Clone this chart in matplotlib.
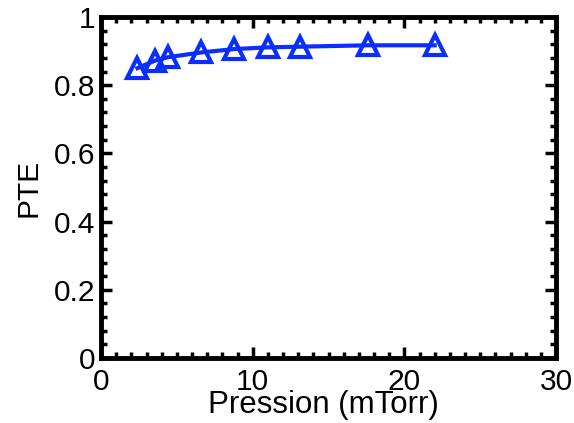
import matplotlib
matplotlib.use("Agg")
import matplotlib.pyplot as plt
from matplotlib.ticker import MultipleLocator

pression = [2.4, 3.55, 4.4, 6.6, 8.8, 11.0, 13.1, 17.6, 22.0]
pte = [0.850, 0.872, 0.882, 0.896, 0.906, 0.911, 0.913, 0.917, 0.917]
xticks = [0, 10, 20, 30]
yticks = [0, 0.2, 0.4, 0.6, 0.8, 1]
yticklabels = ['0', '0.2', '0.4', '0.6', '0.8', '1']

plt.rcParams['font.family'] = ['Liberation Sans', 'DejaVu Sans']

fig = plt.figure(figsize=(5.74, 4.23), dpi=100)
ax = fig.add_axes([101/574, 1-358/423, (556-101)/574, (358-17)/423])

ax.plot(pression, pte, color='#0a2eff', lw=3, marker='^', ms=14,
        mfc='none', mec='#0a2eff', mew=3)

ax.set_xlim(0, 30)
ax.set_ylim(0, 1)
ax.set_xticks(xticks)
ax.xaxis.set_minor_locator(MultipleLocator(1))
ax.set_yticks(yticks)
ax.set_yticklabels(yticklabels)
ax.yaxis.set_minor_locator(MultipleLocator(0.04))

ax.tick_params(which='both', direction='in', top=True, right=True, width=2.5, labelsize=21.5, colors='black')
ax.tick_params(which='major', length=8)
ax.tick_params(axis='x', which='major', pad=7)
ax.tick_params(axis='y', which='major', pad=4)
ax.tick_params(which='minor', length=4)
for s in ax.spines.values():
    s.set_linewidth(3.5)

ax.set_xlabel('Pression (mTorr)', fontsize=22.5)
ax.xaxis.set_label_coords(0.488, (358-390)/341)
ax.set_ylabel('PTE', fontsize=21.5, labelpad=8)

fig.savefig('out.png', dpi=100)
